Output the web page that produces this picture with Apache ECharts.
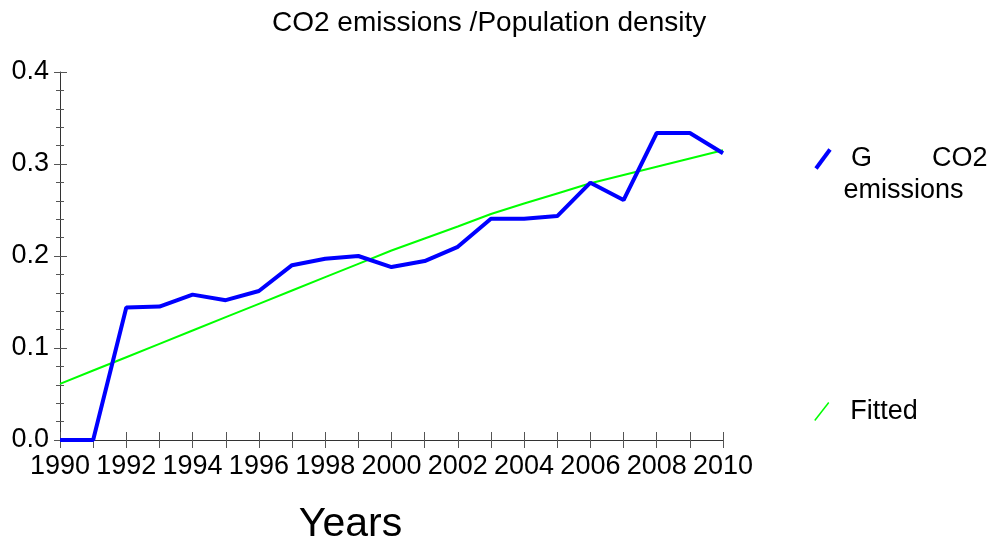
<!DOCTYPE html>
<html>
<head>
<meta charset="utf-8">
<script src="https://cdn.jsdelivr.net/npm/echarts@6/dist/echarts.min.js"></script>
<style>
html,body{margin:0;padding:0;background:#fff;}
#chart{width:989px;height:542px;}
</style>
</head>
<body>
<div id="chart"></div>
<script>
const titleText = 'CO2 emissions /Population density';
const xAxisName = 'Years';
const years = ['1990','1991','1992','1993','1994','1995','1996','1997','1998','1999','2000',
               '2001','2002','2003','2004','2005','2006','2007','2008','2009','2010'];
const emissionsName = 'G CO2 emissions';
const emissions = [0, 0, 0.144, 0.145, 0.158, 0.152, 0.162, 0.190, 0.197, 0.200, 0.188,
                   0.1945, 0.210, 0.2405, 0.2405, 0.2434, 0.2797, 0.2608, 0.3337, 0.3337, 0.3116];
const fittedName = 'Fitted';
const fitted = [0.061, 0.0755, 0.090, 0.1045, 0.119, 0.1335, 0.148, 0.1625, 0.177, 0.1915, 0.206,
                0.219, 0.232, 0.2456, 0.257, 0.268, 0.279, 0.288, 0.297, 0.306, 0.315];
const yTicks = [0, 0.1, 0.2, 0.3, 0.4];

const FONT = '"Liberation Sans", Arial, Helvetica, sans-serif';
const chart = echarts.init(document.getElementById('chart'), null, {renderer: 'canvas'});

const yMin = yTicks[0], yMax = yTicks[yTicks.length - 1];

chart.setOption({
  backgroundColor: '#ffffff',
  animation: false,
  title: {
    text: titleText,
    left: 272, top: 9, padding: 0,
    textStyle: {fontFamily: FONT, fontSize: 28, fontWeight: 'normal', color: '#000'}
  },
  grid: {left: 60, right: 266, top: 72, bottom: 102, containLabel: false, outerBoundsMode: 'none'},
  legend: [
    {
      data: [emissionsName],
      orient: 'vertical',
      left: 814, top: 111, padding: 0,
      icon: 'path://M0,19L14,0',
      itemWidth: 15, itemHeight: 19,
      itemStyle: {color: 'transparent', borderColor: '#0000ff', borderWidth: 4},
      formatter: function () { return ' \n G        CO2\nemissions'; },
      textStyle: {fontFamily: FONT, fontSize: 27, color: '#000', lineHeight: 32, padding: [0, 0, 0, 8]},
      selectedMode: false
    },
    {
      data: [fittedName],
      orient: 'vertical',
      left: 814, top: 398, padding: 0,
      icon: 'path://M0,18L14,0',
      itemWidth: 15, itemHeight: 18,
      itemStyle: {color: 'transparent', borderColor: '#00ff00', borderWidth: 1.5},
      textStyle: {fontFamily: FONT, fontSize: 27, color: '#000', padding: [0, 0, 0, 16]},
      selectedMode: false
    }
  ],
  xAxis: [
    {
      type: 'category',
      data: years,
      boundaryGap: false,
      position: 'bottom',
      name: xAxisName,
      nameLocation: 'middle',
      nameGap: 64,
      nameTextStyle: {fontFamily: FONT, fontSize: 41, color: '#000', padding: [0, 82, 0, 0]},
      axisLine: {show: true, lineStyle: {color: '#333', width: 1}},
      axisTick: {show: true, interval: 0, length: 8, lineStyle: {color: '#555', width: 1}},
      axisLabel: {show: true, interval: 1, margin: 13, fontFamily: FONT, fontSize: 27, color: '#000'},
      splitLine: {show: false}
    },
    {
      type: 'category',
      data: years,
      boundaryGap: false,
      position: 'bottom',
      axisLine: {show: false},
      axisTick: {show: true, inside: true, interval: 0, length: 8, lineStyle: {color: '#555', width: 1}},
      axisLabel: {show: false},
      splitLine: {show: false}
    }
  ],
  yAxis: [
    {
      type: 'value',
      min: yMin, max: yMax, interval: 0.1,
      position: 'left',
      axisLine: {show: true, lineStyle: {color: '#333', width: 1}},
      axisTick: {show: true, length: 6, lineStyle: {color: '#555', width: 1}},
      minorTick: {show: true, splitNumber: 5, length: 4, lineStyle: {color: '#555', width: 1}},
      axisLabel: {show: true, margin: 11, fontFamily: FONT, fontSize: 27, color: '#000',
                  formatter: function (v) { return v.toFixed(1); }},
      splitLine: {show: false}
    },
    {
      type: 'value',
      min: yMin, max: yMax, interval: 0.1,
      position: 'left',
      axisLine: {show: false},
      axisTick: {show: true, inside: true, length: 7, lineStyle: {color: '#555', width: 1}},
      minorTick: {show: true, splitNumber: 5, length: 4, lineStyle: {color: '#555', width: 1}},
      axisLabel: {show: false},
      splitLine: {show: false}
    }
  ],
  series: [
    {
      name: fittedName,
      type: 'line',
      data: fitted,
      xAxisIndex: 0, yAxisIndex: 0,
      showSymbol: false, symbol: 'none',
      lineStyle: {color: '#00ff00', width: 2},
      itemStyle: {color: '#00ff00'},
      z: 2
    },
    {
      name: emissionsName,
      type: 'line',
      data: emissions,
      xAxisIndex: 0, yAxisIndex: 0,
      showSymbol: false, symbol: 'none',
      lineStyle: {color: '#0000ff', width: 4},
      itemStyle: {color: '#0000ff'},
      z: 3
    }
  ]
});
</script>
</body>
</html>
